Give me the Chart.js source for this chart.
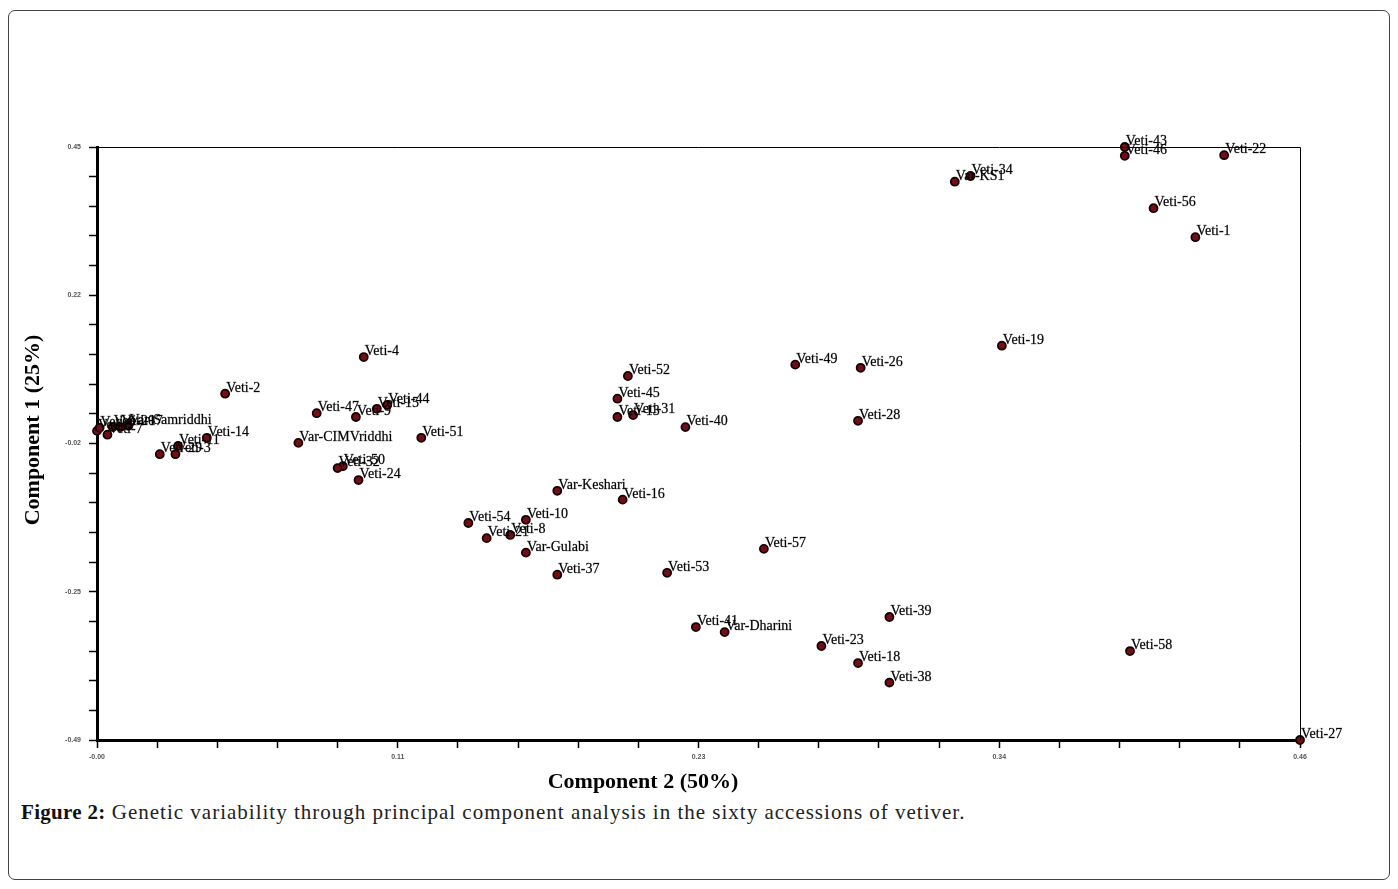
<!DOCTYPE html>
<html>
<head>
<meta charset="utf-8">
<script src="https://cdn.jsdelivr.net/npm/chart.js@4/dist/chart.umd.min.js"></script>
<style>
    body { margin: 0; background: #fff; }
    #frame {
        position: absolute; left: 8px; top: 10px; width: 1380px; height: 868px;
        border: 1px solid #444; border-radius: 7px;
    }
    #wrap { position: absolute; left: 0; top: 0; width: 1398px; height: 800px; }
    #caption {
        position: absolute; left: 21px; top: 800px;
        font: 21px "Liberation Serif", "Times New Roman", serif; color: #222;
        letter-spacing: 1px; white-space: nowrap;
    }
    #caption b { font-weight: 700; color: #111; letter-spacing: 0.3px; }
</style>
</head>
<body>
<div id="frame"></div>
<div id="wrap"><canvas id="pcaChart" width="1398" height="800"></canvas></div>
<div id="caption"><b>Figure 2:</b> Genetic variability through principal component analysis in the sixty accessions of vetiver.</div>
<script>
// accession names and their scores on the two components
const accessions = [
    "Veti-43", "Veti-46", "Veti-22", "Veti-34", "Var-KS1", "Veti-56", "Veti-1",
    "Veti-19", "Veti-49", "Veti-26", "Veti-4", "Veti-52", "Veti-2", "Veti-45",
    "Veti-44", "Veti-15", "Veti-9", "Veti-47", "Veti-13", "Veti-31", "Veti-28",
    "Veti-40", "Veti-5", "Veti-6", "Veti-7", "Veti-20", "Veti-17", "Var-Samriddhi",
    "Veti-14", "Veti-11", "Veti-3", "Veti-29", "Var-CIMVriddhi", "Veti-51",
    "Veti-50", "Veti-32", "Veti-24", "Var-Keshari", "Veti-16", "Veti-10",
    "Veti-54", "Veti-8", "Veti-21", "Var-Gulabi", "Veti-37", "Veti-53",
    "Veti-57", "Veti-39", "Veti-41", "Var-Dharini", "Veti-23", "Veti-18",
    "Veti-38", "Veti-58", "Veti-27",
];
const comp2 = [
    0.393, 0.393, 0.431, 0.334, 0.328, 0.404, 0.420,
    0.346, 0.267, 0.292, 0.102, 0.203, 0.049, 0.199,
    0.111, 0.107, 0.099, 0.084, 0.199, 0.205, 0.291,
    0.225, 0.000, 0.001, 0.004, 0.006, 0.009, 0.012,
    0.042, 0.031, 0.030, 0.024, 0.077, 0.124,
    0.094, 0.092, 0.100, 0.176, 0.201, 0.164,
    0.142, 0.158, 0.149, 0.164, 0.176, 0.218,
    0.255, 0.303, 0.229, 0.240, 0.277, 0.291,
    0.303, 0.395, 0.460,
];
const comp1 = [
    0.450, 0.436, 0.437, 0.404, 0.395, 0.353, 0.307,
    0.135, 0.105, 0.100, 0.117, 0.087, 0.059, 0.051,
    0.041, 0.035, 0.022, 0.028, 0.022, 0.025, 0.016,
    0.006, 0.000, 0.005, -0.006, 0.006, 0.006, 0.008,
    -0.011, -0.024, -0.037, -0.037, -0.019, -0.011,
    -0.056, -0.059, -0.078, -0.095, -0.109, -0.141,
    -0.146, -0.165, -0.170, -0.193, -0.228, -0.225,
    -0.187, -0.295, -0.311, -0.319, -0.341, -0.368,
    -0.399, -0.349, -0.490,
];

// axis ranges and printed tick labels
const xRange = [0, 0.46];
const yRange = [-0.49, 0.45];
const xTickLabels = ["-0.00", "0.11", "0.23", "0.34", "0.46"];
const yTickLabels = ["-0.49", "-0.25", "-0.02", "0.22", "0.45"];
const minorPerMajor = 5;

function tickValues(range) {
    const n = (xTickLabels.length - 1) * minorPerMajor;
    const out = [];
    for (let i = 0; i <= n; i++) out.push(range[0] + (range[1] - range[0]) * i / n);
    return out;
}

const points = accessions.map((name, i) => ({ x: comp2[i], y: comp1[i], name }));

// draws accession names, the plot box and axis titles
const decorations = {
    id: "decorations",
    afterDatasetsDraw(chart) {
        const { ctx, chartArea } = chart;
        ctx.save();
        ctx.strokeStyle = "#000";
        ctx.lineWidth = 1;
        ctx.beginPath();
        ctx.moveTo(chartArea.left, chartArea.top + 0.5);
        ctx.lineTo(chartArea.right + 0.5, chartArea.top + 0.5);
        ctx.lineTo(chartArea.right + 0.5, chartArea.bottom);
        ctx.stroke();

        ctx.font = '14px "Liberation Serif", "Times New Roman", serif';
        ctx.fillStyle = "#000";
        ctx.strokeStyle = "rgba(0,0,0,0.55)";
        ctx.lineWidth = 0.4;
        ctx.textBaseline = "alphabetic";
        const meta = chart.getDatasetMeta(0);
        meta.data.forEach((el, i) => {
            ctx.fillText(points[i].name, el.x + 1, el.y - 2);
            ctx.strokeText(points[i].name, el.x + 1, el.y - 2);
        });

        ctx.font = 'bold 22px "Liberation Serif", "Times New Roman", serif';
        ctx.fillStyle = "#000";
        ctx.textAlign = "center";
        ctx.textBaseline = "middle";
        ctx.fillText("Component 2 (50%)", 643, 782);
        ctx.translate(33, 430);
        ctx.rotate(-Math.PI / 2);
        ctx.fillText("Component 1 (25%)", 0, 0);
        ctx.restore();
    },
};

const tickFont = { family: "Liberation Sans", size: 7, weight: "bold" };

new Chart(document.getElementById("pcaChart"), {
    type: "scatter",
    data: {
        datasets: [{
            data: points,
            clip: false,
            pointRadius: 4,
            pointHoverRadius: 4,
            backgroundColor: "#760d16",
            borderColor: "#140000",
            borderWidth: 1.8,
        }],
    },
    options: {
        responsive: false,
        animation: false,
        layout: { padding: { top: 147, right: 98, left: 0, bottom: 0 } },
        plugins: { legend: { display: false }, tooltip: { enabled: false } },
        scales: {
            x: {
                type: "linear",
                min: xRange[0],
                max: xRange[1],
                afterBuildTicks(scale) {
                    scale.ticks = tickValues(xRange).map((v) => ({ value: v }));
                },
                afterFit(scale) { scale.height = 60; },
                ticks: {
                    autoSkip: false,
                    maxRotation: 0,
                    padding: 5,
                    color: "#555",
                    font: tickFont,
                    callback: (v, i) => (i % minorPerMajor === 0 ? xTickLabels[i / minorPerMajor] : ""),
                },
                grid: { drawOnChartArea: false, tickLength: 8, tickWidth: 1.5, color: "#000" },
                border: { color: "#000", width: 3 },
            },
            y: {
                type: "linear",
                min: yRange[0],
                max: yRange[1],
                afterBuildTicks(scale) {
                    scale.ticks = tickValues(yRange).map((v) => ({ value: v }));
                },
                afterFit(scale) { scale.width = 97; },
                ticks: {
                    autoSkip: false,
                    padding: 8,
                    color: "#555",
                    font: tickFont,
                    callback: (v, i) => (i % minorPerMajor === 0 ? yTickLabels[i / minorPerMajor] : ""),
                },
                grid: { drawOnChartArea: false, tickLength: 8, tickWidth: 1.5, color: "#000" },
                border: { color: "#000", width: 3 },
            },
        },
    },
    plugins: [decorations],
});
</script>
</body>
</html>
